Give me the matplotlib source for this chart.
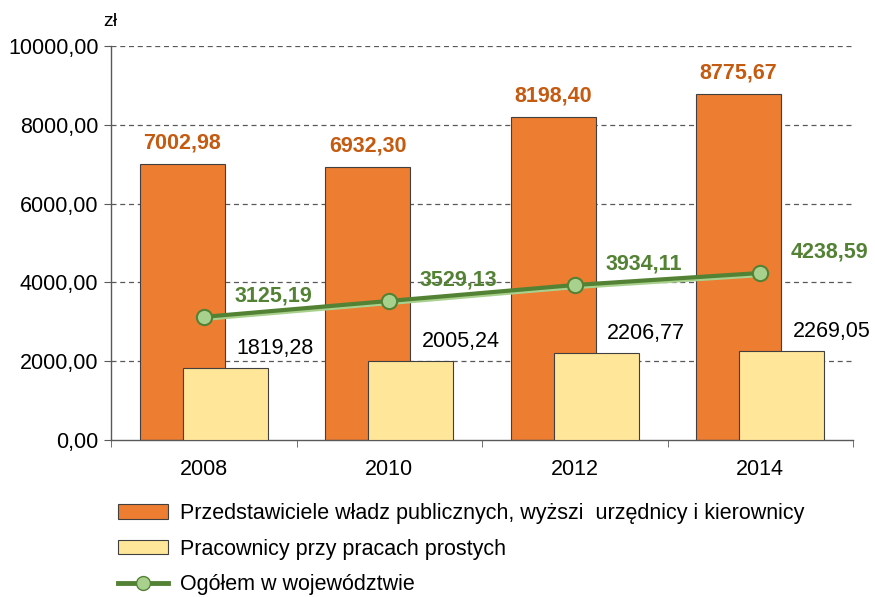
import matplotlib
matplotlib.use('Agg')
import matplotlib.pyplot as plt
import matplotlib.patheffects as pe
from matplotlib.patches import Patch
from matplotlib.lines import Line2D
import numpy as np

plt.rcParams['font.family'] = ['Liberation Sans', 'DejaVu Sans']

years = ['2008', '2010', '2012', '2014']
kierownicy = [7002.98, 6932.30, 8198.40, 8775.67]
prosci = [1819.28, 2005.24, 2206.77, 2269.05]
ogolem = [3125.19, 3529.13, 3934.11, 4238.59]

labels = ['Przedstawiciele władz publicznych, wyższi  urzędnicy i kierownicy',
          'Pracownicy przy pracach prostych',
          'Ogółem w województwie']

c_orange = '#ED7D31'
c_yellow = '#FFE699'
c_green = '#548235'
c_green_l = '#A9D18E'
fs = 15.5

def fmt(v):
    return f'{v:.2f}'.replace('.', ',')

fig = plt.figure(figsize=(8.75, 5.97), dpi=100)
ax = fig.add_axes([111/875, 1 - 440/597, 742/875, 394/597])

x = np.arange(len(years))
w = 0.457
off = 0.116
ax.bar(x - off, kierownicy, w, color=c_orange, edgecolor='#404040', linewidth=0.8, zorder=2)
ax.bar(x + off, prosci, w, color=c_yellow, edgecolor='#404040', linewidth=0.8, zorder=3)
ax.plot(x, ogolem, color=c_green, lw=3, zorder=4,
        path_effects=[pe.SimpleLineShadow(offset=(0, -1.5), shadow_color=c_green_l, alpha=1, rho=1),
                      pe.Normal()])
ax.plot(x, ogolem, ls='none', marker='o', ms=11, mfc=c_green_l, mec=c_green, mew=1.5, zorder=5)

for i in range(len(years)):
    ax.annotate(fmt(kierownicy[i]), (x[i] - off, kierownicy[i]), xytext=(0, 15),
                textcoords='offset points', ha='center', va='center',
                fontsize=fs, fontweight='bold', color='#C55A11')
    ax.annotate(fmt(prosci[i]), (x[i] + off, prosci[i]), xytext=(36, 14),
                textcoords='offset points', ha='center', va='center',
                fontsize=fs, color='black')
    ax.annotate(fmt(ogolem[i]), (x[i], ogolem[i]), xytext=(50, 15),
                textcoords='offset points', ha='center', va='center',
                fontsize=fs, fontweight='bold', color=c_green)

ax.set_xlim(-0.5, 3.5)
ax.set_ylim(0, 10000)
ax.set_yticks(np.arange(0, 10001, 2000))
ax.set_yticklabels([fmt(v) for v in np.arange(0, 10001, 2000)], fontsize=fs)
ax.set_xticks(x)
ax.set_xticklabels(years, fontsize=fs)
ax.set_xticks(np.arange(-0.5, 3.6, 1), minor=True)
ax.tick_params(axis='x', which='major', length=0, pad=14)
ax.tick_params(axis='x', which='minor', length=5, color='#595959')
ax.tick_params(axis='y', length=5, color='#595959', pad=4)
for y in np.arange(2000, 10001, 2000):
    ax.axhline(y, color='#595959', ls=(0, (4, 3)), lw=0.9, zorder=1)
for s in ['top', 'right']:
    ax.spines[s].set_visible(False)
for s in ['left', 'bottom']:
    ax.spines[s].set_color('#595959')
    ax.spines[s].set_linewidth(1)

fig.text(110/875, 1 - 22/597, 'zł', fontsize=14, ha='center', va='center')

handles = [Patch(facecolor=c_orange, edgecolor='#404040', lw=0.8),
           Patch(facecolor=c_yellow, edgecolor='#404040', lw=0.8),
           Line2D([0], [0], color=c_green, lw=3.5, marker='o', ms=10, mfc=c_green_l, mec=c_green)]
fig.legend(handles, labels, loc='upper left', bbox_to_anchor=(118/875, 1 - 503/597),
           frameon=False, fontsize=fs, handlelength=2.33, handleheight=0.65,
           handletextpad=0.55, labelspacing=0.68, borderaxespad=0, borderpad=0)

fig.savefig('out.png', dpi=100)
